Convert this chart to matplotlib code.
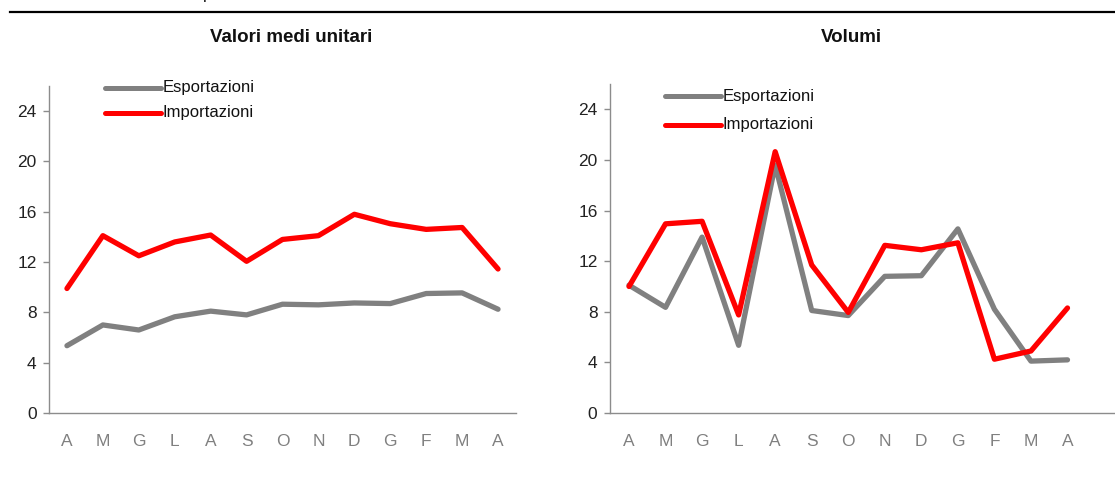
import matplotlib
matplotlib.use("Agg")
import matplotlib.pyplot as plt
from matplotlib.lines import Line2D

plt.rcParams['font.family'] = ['Liberation Sans Narrow', 'Liberation Sans', 'DejaVu Sans']

months = ["A", "M", "G", "L", "A", "S", "O", "N", "D", "G", "F", "M", "A"]
yticks = [0, 4, 8, 12, 16, 20, 24]

valori_export = [5.35, 7.0, 6.6, 7.65, 8.1, 7.8, 8.65, 8.6, 8.75, 8.7, 9.5, 9.55, 8.25]
valori_import = [9.9, 14.1, 12.5, 13.6, 14.15, 12.06, 13.8, 14.1, 15.8, 15.05, 14.6, 14.75, 11.45]

volumi_export = [10.1, 8.35, 13.9, 5.35, 19.6, 8.1, 7.7, 10.8, 10.85, 14.55, 8.2, 4.1, 4.2]
volumi_import = [10.0, 14.95, 15.15, 7.75, 20.65, 11.7, 7.95, 13.25, 12.9, 13.45, 4.25, 4.9, 8.3]

GREY = "#808080"
RED = "#FF0000"
SPINE = "#8c8c8c"

W, H = 1115, 484
fig = plt.figure(figsize=(W / 100, H / 100), dpi=100)


def ax_rect(x0, x1, ytop, ybot):
    return [x0 / W, (H - ybot) / H, (x1 - x0) / W, (ybot - ytop) / H]


def style(ax, xlim):
    x = list(range(len(months)))
    ax.set_xlim(*xlim)
    ax.set_ylim(0, 26)
    ax.set_xticks(x)
    ax.set_xticklabels(months)
    ax.set_yticks(yticks)
    for s in ["top", "right"]:
        ax.spines[s].set_visible(False)
    for s in ["left", "bottom"]:
        ax.spines[s].set_color(SPINE)
        ax.spines[s].set_linewidth(1.0)
    ax.tick_params(axis="y", length=4, width=1, color=SPINE, pad=5,
                   labelsize=12.5, labelcolor="#222222")
    ax.tick_params(axis="x", length=0, pad=15, labelsize=12.5, labelcolor="#808080")


def legend(ax, x0, x1, y1, y2):
    for yy, col, lab in [(y1, GREY, "Esportazioni"), (y2, RED, "Importazioni")]:
        fig.add_artist(Line2D([x0 / W, x1 / W], [(H - yy) / H, (H - yy) / H],
                              color=col, lw=3.6, solid_capstyle="round"))
        fig.text((x1 + 2) / W, (H - yy) / H, lab, fontsize=12, color="#111111",
                 va="center", ha="left")


# Left panel
ax1 = fig.add_axes(ax_rect(49, 516, 86, 413))
x = list(range(len(months)))
ax1.plot(x, valori_export, color=GREY, lw=3.8, solid_joinstyle="round",
         solid_capstyle="round")
ax1.plot(x, valori_import, color=RED, lw=3.8, solid_joinstyle="round",
         solid_capstyle="round")
style(ax1, (-0.5, 12.5))

# Right panel
ax2 = fig.add_axes(ax_rect(610, 1115, 84, 413))
ax2.plot(x, volumi_export, color=GREY, lw=3.8, solid_joinstyle="round",
         solid_capstyle="round")
ax2.plot(x, volumi_import, color=RED, lw=3.8, solid_joinstyle="round",
         solid_capstyle="round")
style(ax2, (-0.52, 13.3))

legend(ax1, 105, 161, 87.5, 112.5)
legend(ax2, 665, 721, 96, 125)

fig.text(291 / W, (H - 37) / H, "Valori medi unitari", fontsize=13.5,
         fontweight="bold", ha="center", va="center", color="#111111")
fig.text(851 / W, (H - 37) / H, "Volumi", fontsize=13.5,
         fontweight="bold", ha="center", va="center", color="#111111")

# top rule
fig.add_artist(Line2D([10 / W, 1.0], [(H - 12) / H, (H - 12) / H], color="black", lw=1.6))
# descender of a heading cut off above the picture, as in the reference
fig.text(208 / W, (H + 0.5) / H, "p", fontsize=12, ha="center", va="baseline",
         color="#111111")

fig.savefig("out.png", dpi=100)
